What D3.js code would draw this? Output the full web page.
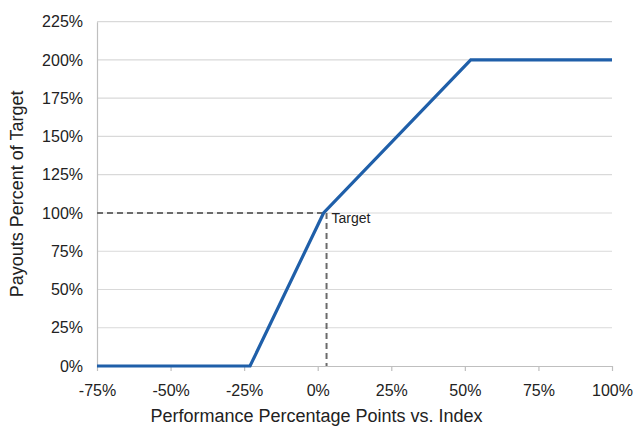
<!DOCTYPE html>
<html>
<head>
<meta charset="utf-8">
<script src="https://cdn.jsdelivr.net/npm/d3@7"></script>
<style>
  html, body { margin: 0; padding: 0; background: #fff; }
  svg { display: block; }
  text { font-family: "Liberation Sans", Arial, sans-serif; }
</style>
</head>
<body>
<svg id="chart" width="636" height="426"></svg>
<script>
// Data
const payoutX = [-75, -23, 2, 52, 100];     // performance points vs index (%)
const payoutY = [0, 0, 100, 200, 200];      // payout percent of target (%)
const xTicks = [-75, -50, -25, 0, 25, 50, 75, 100];
const yTicks = [0, 25, 50, 75, 100, 125, 150, 175, 200, 225];
const targetPoint = [2, 100];
const targetGuideX = [3];
const targetLabel = ["Target"];

const svg = d3.select("#chart");
const margin = { left: 97, right: 24, top: 21.7, bottom: 60 };
const W = 636, H = 426;
const FONT = "'Liberation Sans', Arial, sans-serif";

const x = d3.scaleLinear().domain([-75, 100]).range([margin.left, W - margin.right]);
const y = d3.scaleLinear().domain([0, 225]).range([366, margin.top]);

// gridlines
svg.append("g")
  .selectAll("line")
  .data(yTicks.filter(d => d > 0))
  .join("line")
  .attr("x1", x(-75)).attr("x2", x(100))
  .attr("y1", d => y(d)).attr("y2", d => y(d))
  .attr("stroke", "#d9d9d9").attr("stroke-width", 1.2);

// y axis
const yAxis = svg.append("g")
  .attr("transform", `translate(${x(-75)},0)`)
  .call(d3.axisLeft(y).tickValues(yTicks).tickFormat(d => d + "%").tickSize(0).tickPadding(14));
yAxis.select(".domain").attr("stroke", "#bfbfbf").attr("stroke-width", 1.2);
yAxis.selectAll("text").attr("font-size", 16).attr("fill", "#222").attr("font-family", FONT);

// x axis
const xAxis = svg.append("g")
  .attr("transform", `translate(0,${y(0)})`)
  .call(d3.axisBottom(x).tickValues(xTicks).tickFormat(d => d + "%").tickSize(5).tickSizeOuter(0).tickPadding(14));
xAxis.select(".domain").attr("stroke", "#bfbfbf").attr("stroke-width", 1.2);
xAxis.selectAll(".tick line").attr("stroke", "#bfbfbf").attr("stroke-width", 1.2);
xAxis.selectAll("text").attr("font-size", 16).attr("fill", "#222").attr("font-family", FONT);

// target guides
const tx = targetPoint[0], ty = targetPoint[1];
svg.append("line")
  .attr("x1", x(-75)).attr("x2", x(tx))
  .attr("y1", y(ty)).attr("y2", y(ty))
  .attr("stroke", "#6b6b6b").attr("stroke-width", 2).attr("stroke-dasharray", "6,4");
svg.append("line")
  .attr("x1", x(targetGuideX[0])).attr("x2", x(targetGuideX[0]))
  .attr("y1", y(ty)).attr("y2", y(0))
  .attr("stroke", "#6b6b6b").attr("stroke-width", 2).attr("stroke-dasharray", "6,4");

// payout line
const pts = payoutX.map((d, i) => [d, payoutY[i]]);
svg.append("path")
  .datum(pts)
  .attr("fill", "none")
  .attr("stroke", "#1f5fa9")
  .attr("stroke-width", 3.2)
  .attr("stroke-linejoin", "miter")
  .attr("d", d3.line().x(d => x(d[0])).y(d => y(d[1])));

// target label
svg.append("text")
  .attr("x", x(targetGuideX[0]) + 5)
  .attr("y", y(ty) + 10)
  .attr("font-size", 14)
  .attr("fill", "#222")
  .text(targetLabel[0]);

// axis titles
svg.append("text")
  .attr("x", (x(-75) + x(100)) / 2 - 38)
  .attr("y", 422)
  .attr("text-anchor", "middle")
  .attr("font-size", 18)
  .attr("fill", "#222")
  .text("Performance Percentage Points vs. Index");

svg.append("text")
  .attr("transform", `translate(23,${(y(0) + y(225)) / 2}) rotate(-90)`)
  .attr("text-anchor", "middle")
  .attr("font-size", 18)
  .attr("fill", "#222")
  .text("Payouts Percent of Target");
</script>
</body>
</html>
